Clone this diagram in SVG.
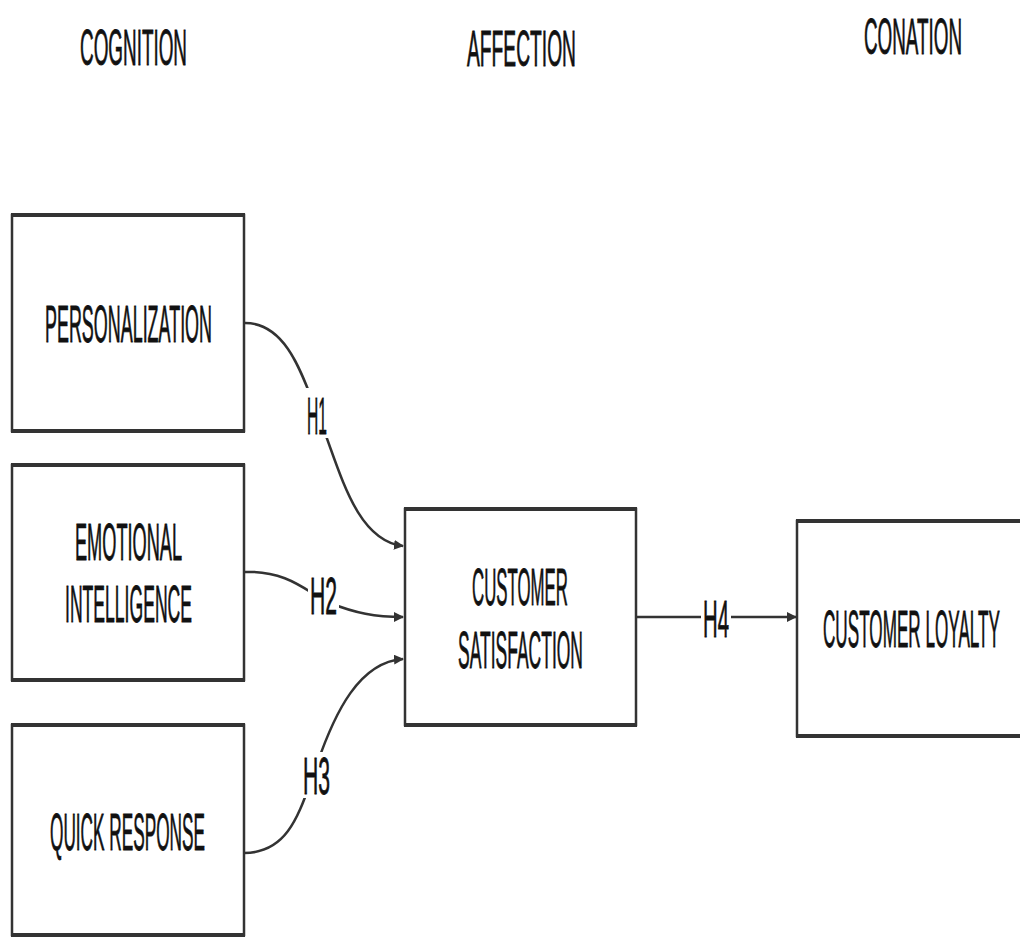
<svg xmlns="http://www.w3.org/2000/svg" width="1020" height="938" viewBox="0 0 1020 938">
<style>
.box{fill:#fff;stroke:#333;stroke-width:2.5}
.edge{stroke:#333;stroke-width:4}
.t{font-family:"Liberation Sans",Arial,sans-serif;font-size:52px;fill:#111;stroke:#111;stroke-width:0.8}
.h{font-family:"Liberation Sans",Arial,sans-serif;font-size:50px;fill:#111;stroke:#111;stroke-width:0.8}
.c{fill:none;stroke:#333;stroke-width:2.5}
.lbg{fill:#fff}
</style>
<defs>
<marker id="arr" viewBox="0 0 10 10" refX="9" refY="5" markerWidth="4" markerHeight="4" orient="auto" markerUnits="strokeWidth">
<path d="M0,0 L10,5 L0,10 z" fill="#333"/>
</marker>
</defs>
<rect width="1020" height="938" fill="#fff"/>
<g id="headers">
<text class="h" x="80" y="65" textLength="107" lengthAdjust="spacingAndGlyphs">COGNITION</text>
<text class="h" x="467" y="66" textLength="109" lengthAdjust="spacingAndGlyphs">AFFECTION</text>
<text class="h" x="864" y="54" textLength="98" lengthAdjust="spacingAndGlyphs">CONATION</text>
</g>
<g id="connectors">
<path class="c" d="M244,323 C290,322 305,385 320,420 C340,470 355,540 403,546" marker-end="url(#arr)"/>
<path class="c" d="M244,572 C290,570 310,595 330,603 C355,613 375,617 403,617" marker-end="url(#arr)"/>
<path class="c" d="M244,853 C290,853 300,810 315,770 C335,710 360,662 403,659" marker-end="url(#arr)"/>
<path class="c" d="M636,617 L796,617" marker-end="url(#arr)"/>
</g>
<g id="labels">
<rect class="lbg" x="305" y="388" width="24" height="50"/>
<text class="t" x="307" y="434" textLength="20" lengthAdjust="spacingAndGlyphs">H1</text>
<rect class="lbg" x="308" y="572" width="31" height="46"/>
<text class="t" x="310" y="614" textLength="27" lengthAdjust="spacingAndGlyphs">H2</text>
<rect class="lbg" x="301" y="752" width="31" height="46"/>
<text class="t" x="303" y="794" textLength="27" lengthAdjust="spacingAndGlyphs">H3</text>
<rect class="lbg" x="701" y="595" width="30" height="46"/>
<text class="t" x="703" y="637" textLength="26" lengthAdjust="spacingAndGlyphs">H4</text>
</g>
<g id="personalization">
<rect class="box" x="12" y="215" width="232" height="216"/>
<line class="edge" x1="11" y1="215" x2="245" y2="215"/>
<line class="edge" x1="11" y1="431" x2="245" y2="431"/>
<text class="t" x="45" y="342" textLength="167" lengthAdjust="spacingAndGlyphs">PERSONALIZATION</text>
</g>
<g id="emotional-intelligence">
<rect class="box" x="12" y="465" width="232" height="215"/>
<line class="edge" x1="11" y1="465" x2="245" y2="465"/>
<line class="edge" x1="11" y1="680" x2="245" y2="680"/>
<text class="t" x="75" y="560" textLength="107" lengthAdjust="spacingAndGlyphs">EMOTIONAL</text>
<text class="t" x="65" y="622" textLength="127" lengthAdjust="spacingAndGlyphs">INTELLIGENCE</text>
</g>
<g id="quick-response">
<rect class="box" x="12" y="725" width="232" height="210"/>
<line class="edge" x1="11" y1="725" x2="245" y2="725"/>
<line class="edge" x1="11" y1="935" x2="245" y2="935"/>
<text class="t" x="50" y="850" textLength="155" lengthAdjust="spacingAndGlyphs">QUICK RESPONSE</text>
</g>
<g id="customer-satisfaction">
<rect class="box" x="405" y="509" width="231" height="216"/>
<line class="edge" x1="404" y1="509" x2="637" y2="509"/>
<line class="edge" x1="404" y1="725" x2="637" y2="725"/>
<text class="t" x="472" y="605" textLength="96" lengthAdjust="spacingAndGlyphs">CUSTOMER</text>
<text class="t" x="458" y="668" textLength="125" lengthAdjust="spacingAndGlyphs">SATISFACTION</text>
</g>
<g id="customer-loyalty">
<rect class="box" x="797" y="521" width="240" height="215"/>
<line class="edge" x1="796" y1="521" x2="1020" y2="521"/>
<line class="edge" x1="796" y1="736" x2="1020" y2="736"/>
<text class="t" x="823" y="647" textLength="177" lengthAdjust="spacingAndGlyphs">CUSTOMER LOYALTY</text>
</g>
</svg>
